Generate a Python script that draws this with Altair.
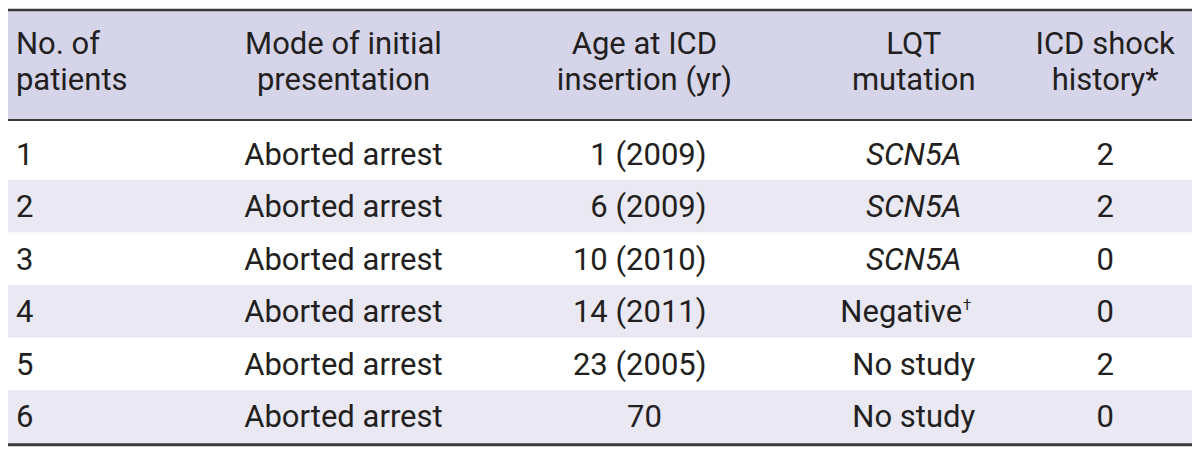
import altair as alt
import pandas as pd

# ---------------- data ----------------
patients = ["1", "2", "3", "4", "5", "6"]
presentation = ["Aborted arrest"] * 6
age_at_icd = ["1 (2009)", "6 (2009)", "10 (2010)", "14 (2011)", "23 (2005)", "70"]
lqt_mutation = ["SCN5A", "SCN5A", "SCN5A", "Negative", "No study", "No study"]
lqt_note = ["", "", "", "\u2020", "", ""]
gene_name = [True, True, True, False, False, False]
shock_history = ["2", "2", "0", "0", "2", "0"]

header_line1 = ["No. of", "Mode of initial", "Age at ICD", "LQT", "ICD shock"]
header_line2 = ["patients", "presentation", "insertion (yr)", "mutation", "history*"]

# ---------------- layout / style ----------------
FONT = "Roboto"
FS = 31
TXT = "#231f20"
HEAD_BG = "#d5d4e9"
ROW_BG = "#e9e8f3"
RULE = "#3a3a3a"

W, H = 1184, 440
XS = alt.Scale(domain=[0, 1200], nice=False, zero=False)
YS = alt.Scale(domain=[-2.266, 6.10], nice=False, zero=False, reverse=True)

# column anchors (reference pixel space)
COL1_L = 8
COL2_C = 340
COL3_C = 645
COL3_R = 708
COL4_C = 918
COL4_NOTE = 967
COL5_C = 1112

HEAD_BASE = [-1.40, -0.70]
ROW_BASE = 0.71

# ---------------- tables ----------------
cells = []
head_x = [COL1_L, COL2_C, COL3_C, COL4_C, COL5_C]
head_align = ["left", "center", "center", "center", "center"]
for j in range(5):
    for line, txt in enumerate([header_line1[j], header_line2[j]]):
        cells.append(dict(x=head_x[j], y=HEAD_BASE[line], text=txt,
                          align=head_align[j], style="normal"))

for i in range(len(patients)):
    yb = i + ROW_BASE
    cells.append(dict(x=COL1_L, y=yb, text=patients[i], align="left", style="normal"))
    cells.append(dict(x=COL2_C, y=yb, text=presentation[i], align="center", style="normal"))
    if "(" in age_at_icd[i]:
        cells.append(dict(x=COL3_R, y=yb, text=age_at_icd[i], align="right", style="normal"))
    else:
        cells.append(dict(x=COL3_C, y=yb, text=age_at_icd[i], align="center", style="normal"))
    if lqt_note[i]:
        cells.append(dict(x=COL4_NOTE, y=yb, text=lqt_mutation[i], align="right", style="normal"))
        cells.append(dict(x=COL4_NOTE, y=yb, text=lqt_note[i], align="left", style="note"))
    else:
        cells.append(dict(x=COL4_C, y=yb, text=lqt_mutation[i], align="center",
                          style="italic" if gene_name[i] else "normal"))
    cells.append(dict(x=COL5_C, y=yb, text=shock_history[i], align="center", style="normal"))
cells = pd.DataFrame(cells)

bands = pd.DataFrame([
    dict(y0=-2.23, y1=-0.138, fill=HEAD_BG),
    dict(y0=1, y1=2, fill=ROW_BG),
    dict(y0=3, y1=4, fill=ROW_BG),
    dict(y0=5, y1=6.04, fill=ROW_BG),
])
rules = pd.DataFrame([
    dict(y=-2.23, w=2.5),
    dict(y=-0.138, w=2.0),
    dict(y=6.04, w=3.0),
])

base = alt.Chart(cells)

band_layer = alt.Chart(bands).mark_rect().encode(
    x=alt.value(0), x2=alt.value(W),
    y=alt.Y("y0:Q", scale=YS, axis=None), y2="y1:Q",
    fill=alt.Fill("fill:N", scale=None),
)
rule_layer = alt.Chart(rules).mark_rule(color=RULE).encode(
    x=alt.value(0), x2=alt.value(W),
    y=alt.Y("y:Q", scale=YS, axis=None),
    strokeWidth=alt.StrokeWidth("w:Q", scale=None),
)

text_layers = []
for al in ["left", "center", "right"]:
    for st in ["normal", "italic"]:
        text_layers.append(
            base.transform_filter((alt.datum.align == al) & (alt.datum.style == st))
            .mark_text(align=al, baseline="alphabetic", font=FONT, fontSize=FS,
                       fontStyle=st, color=TXT)
            .encode(x=alt.X("x:Q", scale=XS, axis=None),
                    y=alt.Y("y:Q", scale=YS, axis=None),
                    text="text:N")
        )
note_layer = (
    base.transform_filter(alt.datum.style == "note")
    .mark_text(align="left", baseline="alphabetic", font=FONT, fontSize=15,
               color=TXT, dx=1, dy=-12)
    .encode(x=alt.X("x:Q", scale=XS, axis=None),
            y=alt.Y("y:Q", scale=YS, axis=None),
            text="text:N")
)

chart = alt.layer(band_layer, rule_layer, *text_layers, note_layer).properties(
    width=W, height=H, padding=0, autosize=alt.AutoSizeParams(type="none"),
    background="white",
).configure_view(stroke=None)

chart.save("out.html", embed_options={"renderer": "svg", "actions": False})
